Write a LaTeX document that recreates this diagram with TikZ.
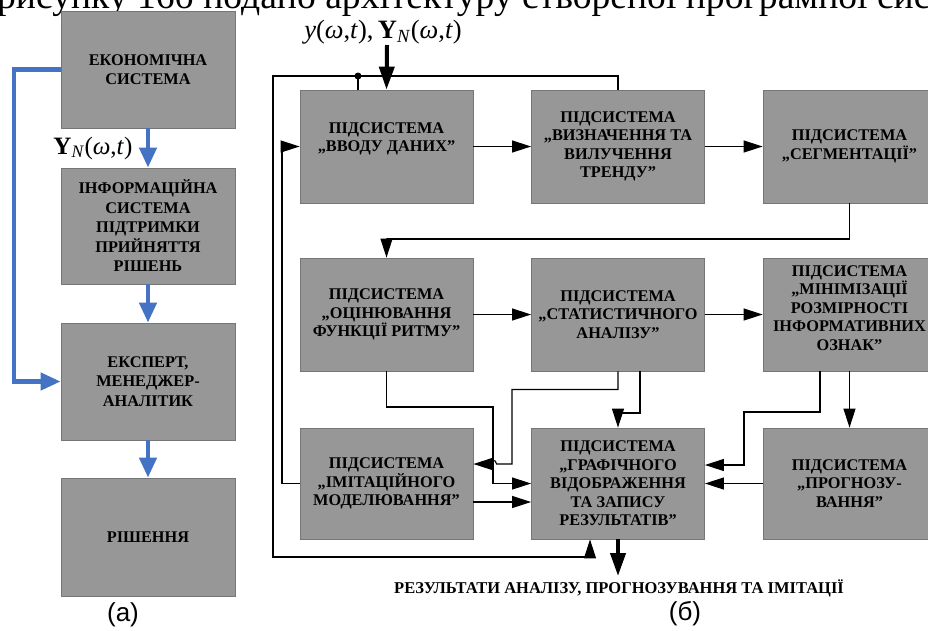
\documentclass[tikz,border=0pt]{standalone}
\usepackage{fontspec}
\setmainfont{Liberation Serif}
\newfontfamily\lsans{Liberation Sans}
\usetikzlibrary{arrows.meta}
\definecolor{boxgray}{RGB}{151,151,151}
\definecolor{boxline}{RGB}{118,118,118}
\definecolor{flowblue}{RGB}{68,114,196}
\newcommand\omg{\textit{ω}}
\begin{document}
\begin{tikzpicture}[x=1pt,y=-1pt,
  box/.style={draw=boxline, line width=0.8pt, fill=boxgray, inner sep=0pt, align=center,
    font=\fontsize{16.3}{18.5}\selectfont\bfseries, minimum width=173pt},
  lbox/.style={box, minimum width=174pt, font=\fontsize{16.3}{19.5}\selectfont\bfseries},
  conn/.style={line width=1.1pt, -{Triangle[length=19pt,width=12pt]}},
  plain/.style={line width=1.1pt},
  bigarrow/.style={line width=4pt, -{Triangle[length=23pt,width=15pt]}},
  bluearrow/.style={draw=flowblue, line width=4.5pt, line join=miter, -{Triangle[length=20pt,width=17pt]}},
  mathlbl/.style={font=\fontsize{25}{28}\selectfont, inner sep=0pt},
]
\useasboundingbox (0,0) rectangle (928,630);
\clip (0,0) rectangle (928,630);

% header line (cut off)
\node[anchor=base west, inner sep=0pt, font=\fontsize{37.6}{38}\selectfont] (hdr) at (-3,8)
  {рисунку 16б подано архітектуру створеної програмної сис};

% left column
\node[lbox, minimum height=117pt] (lb1) at (148,69.5) {ЕКОНОМІЧНА\\СИСТЕМА};
\node[lbox, minimum height=116pt] (lb2) at (148,226) {ІНФОРМАЦІЙНА\\СИСТЕМА\\ПІДТРИМКИ\\ПРИЙНЯТТЯ\\РІШЕНЬ};
\node[lbox, minimum height=117pt] (lb3) at (148,381.5) {ЕКСПЕРТ,\\МЕНЕДЖЕР-\\АНАЛІТИК};
\node[lbox, minimum height=118pt] (lb4) at (148,537) {РІШЕННЯ};
\node[mathlbl] (ylbl) at (93,148) {\textbf{Y}\textsubscript{\textit{N}}(\omg,\textit{t})};
\node[font=\lsans\fontsize{26}{28}\selectfont, inner sep=0pt] (capa) at (123,615) {(а)};

\draw[bluearrow] (lb1.south) -- (lb2.north);
\draw[bluearrow] (lb2.south) -- (lb3.north);
\draw[bluearrow] (lb3.south) -- (lb4.north);
\draw[bluearrow] (lb1.west) -- (14,69.5) |- (lb3.west);

% right diagram
\node[box, minimum height=113pt] (b1) at (386.5,146.5) {ПІДСИСТЕМА\\„ВВОДУ ДАНИХ”\\\mbox{}};
\node[box, minimum height=113pt] (b2) at (618,146.5) {ПІДСИСТЕМА\\„ВИЗНАЧЕННЯ ТА\\ВИЛУЧЕННЯ\\ТРЕНДУ”};
\node[box, minimum height=113pt] (b3) at (849.5,146.5) {ПІДСИСТЕМА\\„СЕГМЕНТАЦІЇ”};
\node[box, minimum height=113pt] (b4) at (386.5,314.5) {ПІДСИСТЕМА\\„ОЦІНЮВАННЯ\\ФУНКЦІЇ РИТМУ”};
\node[box, minimum height=113pt] (b5) at (618,314.5) {ПІДСИСТЕМА\\„СТАТИСТИЧНОГО\\АНАЛІЗУ”};
\node[box, minimum height=113pt] (b6) at (849.5,314.5) {ПІДСИСТЕМА\\„МІНІМІЗАЦІЇ\\РОЗМІРНОСТІ\\ІНФОРМАТИВНИХ\\ОЗНАК”\\[-5pt]\mbox{}};
\node[box, minimum height=111pt] (b7) at (386.5,483.5) {ПІДСИСТЕМА\\„ІМІТАЦІЙНОГО\\МОДЕЛЮВАННЯ”};
\node[box, minimum height=111pt] (b8) at (618,483.5) {ПІДСИСТЕМА\\„ГРАФІЧНОГО\\ВІДОБРАЖЕННЯ\\ТА ЗАПИСУ\\РЕЗУЛЬТАТІВ”};
\node[box, minimum height=111pt] (b9) at (849.5,483.5) {ПІДСИСТЕМА\\„ПРОГНОЗУ-\\ВАННЯ”};

\node[font=\fontsize{26.5}{28}\selectfont, inner sep=0pt] (inlbl) at (383,32) {\textit{y}(\omg,\textit{t}),\,\textbf{Y}\textsubscript{\textit{N}}(\omg,\textit{t})};
\node[font=\fontsize{16.5}{18}\selectfont\bfseries, inner sep=0pt] (res) at (619,588)
  {РЕЗУЛЬТАТИ АНАЛІЗУ, ПРОГНОЗУВАННЯ ТА ІМІТАЦІЇ};
\node[font=\lsans\fontsize{26}{28}\selectfont, inner sep=0pt] (capb) at (685,614) {(б)};

% input and output
\coordinate (instart) at (387,45);
\coordinate (outend) at (618,576);
\draw[bigarrow] (instart) -- (b1.north);
\draw[bigarrow] (b8.south) -- (outend);

% horizontal flow
\draw[conn] (b1.east) -- (b2.west);
\draw[conn] (b2.east) -- (b3.west);
\draw[conn] (b4.east) -- (b5.west);
\draw[conn] (b5.east) -- (b6.west);
\draw[conn] (b3.south) |- (387,239) -| (b4.north);
\draw[conn] (b6.south) -- (b9.north);
\draw[conn] (b9.west) -- (b8.east);
\draw[conn] ([yshift=-18.5pt]b7.east) -- ([yshift=-18.5pt]b8.west);
\draw[conn] (b4.south) |- (493,407) |- (b8.west);
\draw[conn] (b5.south) |- (512,389.5) -- (512,464) -- (496.5,464)
  .. controls (496.5,459) and (489.5,459) .. (489.5,464) -- ([yshift=19.5pt]b7.east);
\draw[conn] ([xshift=22pt]b5.south) -- (640,413) -- (618,413) -- (b8.north);
\draw[conn] ([xshift=-29.5pt]b6.south) |- (744,412) |- ([yshift=18.5pt]b8.east);
\draw[conn] (b7.west) -- (282,483.5) |- (b1.west);

% feedback bus
\coordinate (dot) at (358,76);
\draw[conn] (b2.north) |- (273,76) -- (273,557) -| ([xshift=-28pt]b8.south);
\draw[plain] ([xshift=-28.5pt]b1.north) -- (dot);
\fill (dot) circle (3.5pt);
\end{tikzpicture}
\end{document}
